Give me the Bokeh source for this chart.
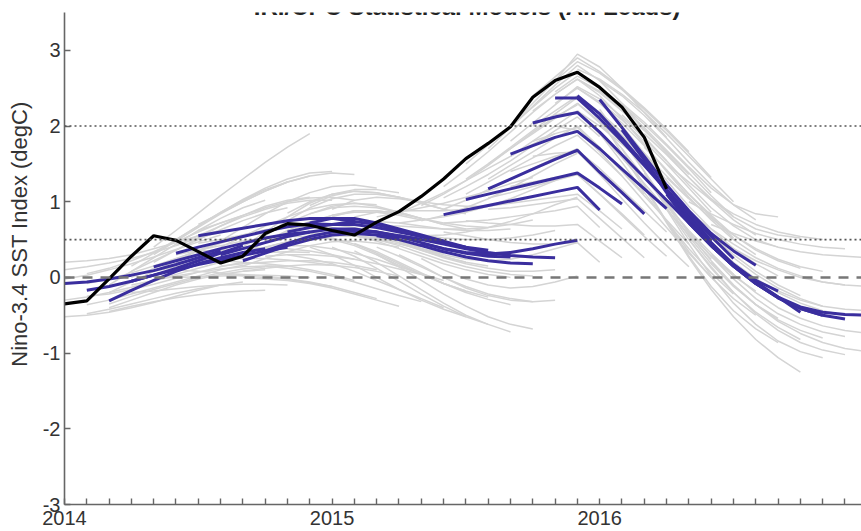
from bokeh.plotting import figure
from bokeh.models import FixedTicker, Span, Label, Range1d
from bokeh.embed import file_html
from bokeh.resources import INLINE

# month index: 0 = Jan 2014
year_labels = {0: "2014", 12: "2015", 24: "2016"}
y_tick_values = [-3, -2, -1, 0, 1, 2, 3]
title_text = "IRI/CPC Statistical Models (All Leads)"
y_title = "Nino-3.4 SST Index (degC)"
ref_dotted = [0.5, 2.0]
ref_dashed = 0.0

# observed Nino-3.4 index (black)
observed = [-0.35, -0.31, -0.02, 0.28, 0.55, 0.49, 0.34, 0.19, 0.28, 0.58,
            0.71, 0.69, 0.62, 0.56, 0.73, 0.87, 1.07, 1.30, 1.57, 1.77,
            1.99, 2.38, 2.60, 2.71, 2.51, 2.25, 1.85, 1.17]

# start month of each forecast (first lead)
fcst_start = list(range(30))

# statistical-model mean forecasts (blue), 8 leads each
stat_mean = [
    [-0.08, -0.06, -0.02, 0.03, 0.09, 0.17, 0.26, 0.35],
    [-0.17, -0.12, -0.05, 0.03, 0.12, 0.22, 0.32, 0.42],
    [-0.31, -0.17, -0.04, 0.08, 0.18, 0.26, 0.33, 0.38],
    [-0.05, 0.03, 0.10, 0.17, 0.23, 0.29, 0.35, 0.40],
    [0.14, 0.22, 0.30, 0.38, 0.45, 0.52, 0.57, 0.60],
    [0.32, 0.40, 0.47, 0.54, 0.61, 0.67, 0.71, 0.70],
    [0.55, 0.60, 0.65, 0.70, 0.75, 0.78, 0.78, 0.74],
    [0.30, 0.38, 0.46, 0.54, 0.60, 0.64, 0.64, 0.60],
    [0.22, 0.32, 0.42, 0.50, 0.56, 0.58, 0.56, 0.52],
    [0.35, 0.45, 0.54, 0.60, 0.62, 0.60, 0.55, 0.50],
    [0.60, 0.66, 0.70, 0.70, 0.66, 0.60, 0.54, 0.48],
    [0.72, 0.78, 0.78, 0.72, 0.64, 0.56, 0.48, 0.40],
    [0.70, 0.74, 0.70, 0.62, 0.54, 0.46, 0.40, 0.36],
    [0.62, 0.60, 0.54, 0.46, 0.38, 0.32, 0.28, 0.27],
    [0.55, 0.50, 0.42, 0.34, 0.27, 0.22, 0.19, 0.18],
    [0.55, 0.50, 0.44, 0.38, 0.33, 0.29, 0.27, 0.26],
    [0.45, 0.38, 0.33, 0.31, 0.33, 0.38, 0.44, 0.49],
    [0.83, 0.89, 0.95, 1.01, 1.07, 1.13, 1.19, 0.89],
    [1.03, 1.10, 1.17, 1.24, 1.31, 1.38, 1.18, 0.97],
    [1.17, 1.30, 1.43, 1.56, 1.68, 1.39, 1.12, 0.84],
    [1.63, 1.74, 1.85, 1.93, 1.70, 1.43, 1.17, 0.91],
    [2.04, 2.12, 2.18, 1.92, 1.62, 1.32, 1.02, 0.72],
    [2.37, 2.37, 2.10, 1.80, 1.48, 1.15, 0.82, 0.48],
    [2.40, 2.16, 1.84, 1.50, 1.16, 0.84, 0.54, 0.25],
    [2.35, 1.98, 1.60, 1.22, 0.88, 0.58, 0.35, 0.16],
    [1.95, 1.55, 1.15, 0.78, 0.46, 0.17, -0.04, -0.18],
    [1.55, 1.12, 0.74, 0.43, 0.17, -0.06, -0.26, -0.46],
    [1.10, 0.72, 0.42, 0.15, -0.08, -0.27, -0.41, -0.50],
    [0.72, 0.42, 0.15, -0.08, -0.27, -0.41, -0.50, -0.55],
    [0.42, 0.15, -0.08, -0.26, -0.39, -0.46, -0.49, -0.50],
]

# individual statistical models (gray), five per start month
model_hi = [
    [0.20, 0.22, 0.25, 0.30, 0.38, 0.46, 0.55, 0.62],
    [0.05, 0.12, 0.22, 0.34, 0.47, 0.60, 0.72, 0.82],
    [-0.10, 0.08, 0.26, 0.44, 0.62, 0.78, 0.92, 1.02],
    [0.15, 0.32, 0.50, 0.68, 0.86, 1.02, 1.16, 1.26],
    [0.40, 0.62, 0.85, 1.08, 1.30, 1.52, 1.72, 1.90],
    [0.50, 0.68, 0.86, 1.03, 1.18, 1.30, 1.38, 1.40],
    [0.70, 0.85, 1.00, 1.14, 1.26, 1.34, 1.38, 1.36],
    [0.48, 0.66, 0.84, 1.00, 1.12, 1.20, 1.22, 1.18],
    [0.40, 0.60, 0.80, 0.98, 1.10, 1.16, 1.16, 1.12],
    [0.55, 0.75, 0.92, 1.04, 1.10, 1.10, 1.06, 1.00],
    [0.85, 1.00, 1.10, 1.14, 1.12, 1.06, 0.98, 0.90],
    [0.95, 1.08, 1.14, 1.12, 1.06, 0.98, 0.90, 0.84],
    [0.90, 1.02, 1.06, 1.04, 1.00, 0.96, 0.94, 0.94],
    [0.80, 0.86, 0.88, 0.88, 0.88, 0.90, 0.94, 1.00],
    [0.80, 0.86, 0.92, 0.98, 1.06, 1.14, 1.24, 1.32],
    [0.85, 0.98, 1.12, 1.28, 1.44, 1.60, 1.76, 1.90],
    [0.95, 1.10, 1.28, 1.48, 1.70, 1.92, 2.12, 2.28],
    [1.20, 1.42, 1.66, 1.92, 2.18, 2.42, 2.62, 2.40],
    [1.50, 1.75, 2.00, 2.25, 2.50, 2.72, 2.50, 2.20],
    [1.70, 1.98, 2.26, 2.54, 2.80, 2.60, 2.30, 1.95],
    [2.00, 2.30, 2.60, 2.95, 2.78, 2.50, 2.18, 1.85],
    [2.40, 2.65, 2.90, 2.72, 2.50, 2.24, 1.96, 1.66],
    [2.60, 2.85, 2.70, 2.48, 2.22, 1.94, 1.64, 1.32],
    [2.75, 2.62, 2.42, 2.18, 1.90, 1.60, 1.30, 1.00],
    [2.60, 2.40, 2.14, 1.84, 1.52, 1.22, 0.96, 0.76],
    [2.30, 2.05, 1.76, 1.46, 1.18, 0.96, 0.84, 0.80],
    [1.90, 1.62, 1.32, 1.04, 0.80, 0.64, 0.56, 0.52],
    [1.50, 1.26, 1.02, 0.84, 0.70, 0.60, 0.54, 0.50],
    [1.00, 0.84, 0.70, 0.58, 0.50, 0.44, 0.40, 0.38],
    [0.70, 0.58, 0.48, 0.40, 0.34, 0.30, 0.28, 0.26],
]
model_midhi = [
    [0.10, 0.14, 0.19, 0.25, 0.33, 0.42, 0.52, 0.60],
    [-0.08, -0.02, 0.06, 0.15, 0.25, 0.35, 0.45, 0.54],
    [-0.20, -0.06, 0.08, 0.22, 0.35, 0.46, 0.55, 0.62],
    [0.08, 0.22, 0.36, 0.50, 0.63, 0.75, 0.85, 0.92],
    [0.30, 0.48, 0.66, 0.84, 1.00, 1.14, 1.26, 1.34],
    [0.42, 0.55, 0.68, 0.80, 0.90, 0.98, 1.02, 1.02],
    [0.62, 0.72, 0.82, 0.92, 1.00, 1.05, 1.06, 1.02],
    [0.40, 0.54, 0.68, 0.80, 0.90, 0.96, 0.98, 0.96],
    [0.32, 0.46, 0.60, 0.72, 0.82, 0.88, 0.88, 0.84],
    [0.48, 0.62, 0.74, 0.82, 0.86, 0.86, 0.82, 0.76],
    [0.72, 0.84, 0.92, 0.94, 0.92, 0.86, 0.78, 0.70],
    [0.84, 0.94, 0.98, 0.94, 0.86, 0.78, 0.70, 0.64],
    [0.80, 0.88, 0.88, 0.84, 0.78, 0.72, 0.68, 0.66],
    [0.72, 0.74, 0.72, 0.68, 0.64, 0.62, 0.62, 0.64],
    [0.68, 0.68, 0.66, 0.64, 0.64, 0.66, 0.70, 0.76],
    [0.72, 0.76, 0.80, 0.86, 0.94, 1.04, 1.16, 1.28],
    [0.75, 0.82, 0.92, 1.04, 1.18, 1.34, 1.50, 1.64],
    [1.05, 1.20, 1.36, 1.54, 1.74, 1.94, 2.12, 1.86],
    [1.30, 1.50, 1.70, 1.90, 2.10, 2.30, 2.06, 1.78],
    [1.50, 1.72, 1.94, 2.16, 2.38, 2.16, 1.88, 1.56],
    [1.80, 2.04, 2.28, 2.52, 2.36, 2.12, 1.84, 1.54],
    [2.20, 2.42, 2.62, 2.44, 2.20, 1.94, 1.66, 1.36],
    [2.45, 2.66, 2.50, 2.28, 2.02, 1.74, 1.44, 1.12],
    [2.62, 2.46, 2.24, 1.98, 1.68, 1.38, 1.08, 0.80],
    [2.50, 2.26, 1.96, 1.64, 1.32, 1.02, 0.76, 0.56],
    [2.15, 1.86, 1.54, 1.22, 0.92, 0.68, 0.50, 0.40],
    [1.72, 1.42, 1.10, 0.82, 0.56, 0.36, 0.22, 0.12],
    [1.32, 1.04, 0.78, 0.56, 0.38, 0.24, 0.14, 0.08],
    [0.86, 0.64, 0.44, 0.26, 0.12, 0.02, -0.06, -0.10],
    [0.56, 0.38, 0.22, 0.10, 0.00, -0.06, -0.10, -0.12],
]
model_mid = [
    [-0.02, 0.03, 0.10, 0.18, 0.27, 0.37, 0.47, 0.56],
    [-0.25, -0.22, -0.16, -0.09, -0.01, 0.07, 0.14, 0.20],
    [-0.35, -0.25, -0.16, -0.08, 0.00, 0.06, 0.11, 0.14],
    [0.00, 0.12, 0.24, 0.36, 0.47, 0.56, 0.63, 0.67],
    [0.20, 0.36, 0.52, 0.68, 0.82, 0.94, 1.02, 1.06],
    [0.30, 0.36, 0.42, 0.48, 0.52, 0.54, 0.54, 0.52],
    [0.45, 0.50, 0.56, 0.62, 0.66, 0.68, 0.66, 0.60],
    [0.25, 0.32, 0.40, 0.47, 0.52, 0.55, 0.55, 0.52],
    [0.15, 0.25, 0.34, 0.42, 0.47, 0.48, 0.45, 0.40],
    [0.40, 0.47, 0.52, 0.55, 0.55, 0.52, 0.46, 0.40],
    [0.55, 0.58, 0.58, 0.55, 0.50, 0.44, 0.38, 0.32],
    [0.70, 0.70, 0.66, 0.58, 0.48, 0.38, 0.28, 0.20],
    [0.65, 0.62, 0.55, 0.46, 0.36, 0.27, 0.20, 0.15],
    [0.55, 0.48, 0.38, 0.28, 0.18, 0.10, 0.04, 0.00],
    [0.50, 0.42, 0.32, 0.22, 0.14, 0.08, 0.04, 0.02],
    [0.60, 0.56, 0.52, 0.50, 0.50, 0.52, 0.56, 0.62],
    [0.55, 0.56, 0.60, 0.66, 0.74, 0.84, 0.96, 1.06],
    [0.90, 1.02, 1.16, 1.30, 1.44, 1.58, 1.70, 1.40],
    [1.10, 1.26, 1.42, 1.58, 1.74, 1.88, 1.62, 1.34],
    [1.30, 1.48, 1.66, 1.84, 2.00, 1.72, 1.42, 1.10],
    [1.60, 1.80, 2.00, 2.20, 2.00, 1.76, 1.50, 1.22],
    [2.00, 2.20, 2.40, 2.18, 1.92, 1.64, 1.34, 1.04],
    [2.30, 2.50, 2.32, 2.08, 1.80, 1.50, 1.18, 0.86],
    [2.50, 2.30, 2.04, 1.74, 1.42, 1.10, 0.80, 0.52],
    [2.40, 2.10, 1.76, 1.40, 1.06, 0.76, 0.50, 0.30],
    [2.00, 1.64, 1.28, 0.94, 0.64, 0.38, 0.18, 0.02],
    [1.55, 1.20, 0.86, 0.56, 0.30, 0.08, -0.10, -0.24],
    [1.15, 0.82, 0.52, 0.26, 0.04, -0.14, -0.28, -0.38],
    [0.70, 0.44, 0.20, -0.02, -0.20, -0.34, -0.44, -0.50],
    [0.40, 0.18, -0.02, -0.18, -0.30, -0.38, -0.42, -0.44],
]
model_midlo = [
    [-0.30, -0.26, -0.20, -0.13, -0.05, 0.04, 0.12, 0.20],
    [-0.36, -0.30, -0.22, -0.14, -0.06, 0.02, 0.10, 0.16],
    [-0.40, -0.30, -0.20, -0.10, -0.02, 0.04, 0.08, 0.10],
    [-0.10, -0.04, 0.02, 0.07, 0.11, 0.14, 0.15, 0.15],
    [0.08, 0.14, 0.20, 0.26, 0.30, 0.33, 0.34, 0.33],
    [0.20, 0.22, 0.24, 0.25, 0.25, 0.23, 0.20, 0.16],
    [0.35, 0.36, 0.38, 0.39, 0.38, 0.35, 0.30, 0.24],
    [0.15, 0.18, 0.20, 0.22, 0.22, 0.20, 0.16, 0.10],
    [0.08, 0.12, 0.15, 0.17, 0.16, 0.13, 0.08, 0.02],
    [0.28, 0.30, 0.30, 0.28, 0.24, 0.18, 0.11, 0.04],
    [0.42, 0.42, 0.38, 0.32, 0.24, 0.14, 0.05, -0.04],
    [0.55, 0.50, 0.42, 0.30, 0.16, 0.04, -0.08, -0.18],
    [0.52, 0.44, 0.32, 0.18, 0.04, -0.08, -0.18, -0.26],
    [0.45, 0.34, 0.20, 0.06, -0.08, -0.20, -0.29, -0.36],
    [0.40, 0.28, 0.14, 0.00, -0.12, -0.22, -0.28, -0.32],
    [0.45, 0.36, 0.26, 0.18, 0.12, 0.08, 0.08, 0.10],
    [0.38, 0.30, 0.24, 0.22, 0.24, 0.30, 0.38, 0.46],
    [0.72, 0.74, 0.76, 0.80, 0.84, 0.88, 0.94, 0.66],
    [0.90, 0.94, 0.98, 1.02, 1.06, 1.10, 0.88, 0.64],
    [1.05, 1.12, 1.20, 1.28, 1.36, 1.10, 0.84, 0.56],
    [1.40, 1.50, 1.60, 1.68, 1.44, 1.16, 0.88, 0.60],
    [1.80, 1.90, 1.98, 1.70, 1.40, 1.08, 0.76, 0.44],
    [2.15, 2.18, 1.90, 1.58, 1.24, 0.90, 0.56, 0.24],
    [2.30, 2.04, 1.70, 1.32, 0.96, 0.62, 0.32, 0.04],
    [2.22, 1.82, 1.40, 0.98, 0.60, 0.28, 0.02, -0.18],
    [1.85, 1.40, 0.96, 0.54, 0.18, -0.12, -0.36, -0.54],
    [1.38, 0.92, 0.50, 0.12, -0.20, -0.46, -0.66, -0.82],
    [1.00, 0.58, 0.22, -0.10, -0.36, -0.56, -0.70, -0.80],
    [0.60, 0.28, -0.02, -0.28, -0.48, -0.62, -0.72, -0.78],
    [0.30, 0.04, -0.20, -0.40, -0.54, -0.64, -0.70, -0.74],
]
model_lo = [
    [-0.52, -0.50, -0.46, -0.40, -0.33, -0.25, -0.17, -0.10],
    [-0.48, -0.42, -0.35, -0.28, -0.21, -0.15, -0.10, -0.06],
    [-0.45, -0.38, -0.32, -0.27, -0.23, -0.20, -0.18, -0.17],
    [-0.20, -0.18, -0.15, -0.12, -0.10, -0.09, -0.09, -0.10],
    [0.00, 0.00, 0.01, 0.02, 0.03, 0.03, 0.02, 0.00],
    [0.10, 0.08, 0.06, 0.04, 0.02, -0.02, -0.07, -0.12],
    [0.25, 0.22, 0.20, 0.18, 0.15, 0.10, 0.04, -0.04],
    [0.05, 0.02, 0.00, -0.02, -0.06, -0.12, -0.20, -0.28],
    [0.00, -0.02, -0.04, -0.08, -0.14, -0.22, -0.30, -0.38],
    [0.15, 0.12, 0.08, 0.02, -0.06, -0.15, -0.24, -0.32],
    [0.30, 0.25, 0.18, 0.08, -0.04, -0.16, -0.28, -0.40],
    [0.40, 0.30, 0.16, 0.00, -0.16, -0.30, -0.42, -0.52],
    [0.40, 0.28, 0.12, -0.05, -0.22, -0.38, -0.52, -0.62],
    [0.35, 0.20, 0.02, -0.16, -0.34, -0.50, -0.62, -0.72],
    [0.30, 0.14, -0.04, -0.22, -0.38, -0.52, -0.62, -0.68],
    [0.30, 0.16, 0.00, -0.14, -0.24, -0.30, -0.32, -0.30],
    [0.25, 0.10, -0.02, -0.10, -0.14, -0.12, -0.06, 0.02],
    [0.60, 0.55, 0.50, 0.46, 0.44, 0.44, 0.46, 0.20],
    [0.75, 0.72, 0.70, 0.68, 0.68, 0.70, 0.48, 0.26],
    [0.90, 0.92, 0.96, 1.00, 1.04, 0.78, 0.52, 0.26],
    [1.20, 1.26, 1.32, 1.36, 1.10, 0.82, 0.54, 0.28],
    [1.60, 1.64, 1.66, 1.36, 1.04, 0.72, 0.42, 0.14],
    [2.00, 1.94, 1.66, 1.34, 1.00, 0.66, 0.32, 0.00],
    [2.20, 1.90, 1.52, 1.12, 0.74, 0.38, 0.06, -0.22],
    [2.10, 1.64, 1.18, 0.74, 0.34, 0.00, -0.28, -0.50],
    [1.70, 1.22, 0.74, 0.28, -0.12, -0.44, -0.68, -0.86],
    [1.20, 0.72, 0.26, -0.16, -0.52, -0.82, -1.06, -1.25],
    [0.90, 0.44, 0.02, -0.34, -0.62, -0.84, -0.98, -1.06],
    [0.50, 0.14, -0.20, -0.48, -0.70, -0.86, -0.96, -1.02],
    [0.20, -0.10, -0.36, -0.58, -0.74, -0.86, -0.94, -0.98],
]

BLUE = "#3a2e9e"
GRAY = "#d4d4d4"
FONT = "Liberation Sans"

x_end = 35.74
p = figure(frame_width=797, frame_height=492,
           x_range=Range1d(0, x_end), y_range=Range1d(-3, 3.5),
           output_backend="svg", toolbar_location=None,
           min_border_left=64, min_border_right=0,
           min_border_top=12, min_border_bottom=27)
p.outline_line_color = None
p.grid.visible = False
p.background_fill_color = "white"
p.border_fill_color = "white"


def lead_xs(starts, series):
    return [[s + k for k in range(len(v))] for s, v in zip(starts, series)]


for group in (model_hi, model_midhi, model_mid, model_midlo, model_lo):
    p.multi_line(xs=lead_xs(fcst_start, group), ys=group,
                 line_color=GRAY, line_width=1.5)

for yv in ref_dotted:
    p.add_layout(Span(location=yv, dimension="width", line_color="#555555",
                      line_width=1.6, line_dash="2 3"))
p.add_layout(Span(location=ref_dashed, dimension="width", line_color="#777777",
                  line_width=2.5, line_dash="10 8"))

p.multi_line(xs=lead_xs(fcst_start, stat_mean), ys=stat_mean,
             line_color=BLUE, line_width=3)

p.line(x=list(range(len(observed))), y=observed, line_color="black", line_width=3.2)

# axes
xa = p.xaxis[0]
xa.ticker = FixedTicker(ticks=list(range(0, 36)))
xa.major_label_overrides = {i: year_labels.get(i, "") for i in range(0, 36)}
xa.minor_tick_line_color = None
xa.major_tick_in = 6
xa.major_tick_out = 0
xa.major_label_standoff = 6
ya = p.yaxis[0]
ya.ticker = FixedTicker(ticks=y_tick_values)
ya.major_label_overrides = {v: str(v) for v in y_tick_values}
ya.minor_tick_line_color = None
ya.major_tick_in = 6
ya.major_tick_out = 0
ya.major_label_standoff = 4
ya.axis_label = "\u00a0" * 8 + y_title
ya.axis_label_standoff = 8
ya.axis_label_text_font = FONT
ya.axis_label_text_font_size = "22px"
ya.axis_label_text_font_style = "normal"
ya.axis_label_text_color = "#333333"
for ax in (xa, ya):
    ax.axis_line_color = "#666666"
    ax.axis_line_width = 1.6
    ax.major_tick_line_color = "#666666"
    ax.major_tick_line_width = 1.4
    ax.major_label_text_font = FONT
    ax.major_label_text_font_size = "20px"
    ax.major_label_text_color = "#333333"

p.add_layout(Label(x=(467 - 64.4) / 22.3, y=3.5 + 6 / 75.7, text=title_text,
                   text_align="center", text_baseline="alphabetic",
                   text_font=FONT, text_font_style="bold", text_font_size="24px",
                   text_color="#222222"))

open("out.html", "w").write(file_html(p, INLINE))
